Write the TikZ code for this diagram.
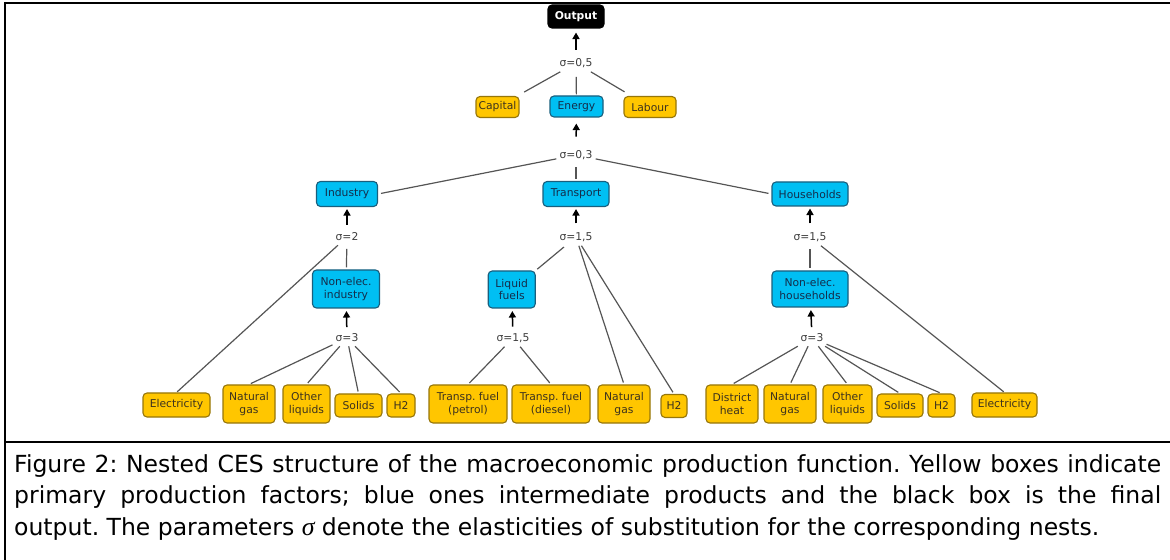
\documentclass[tikz,border=0pt]{standalone}
\usepackage{fontspec}
\setmainfont{DejaVu Sans}
\newfontfamily\capfont{DejaVu Sans}
\newfontfamily\serifit{Liberation Serif}
\usetikzlibrary{arrows.meta}
\definecolor{yfill}{RGB}{255,198,0}
\definecolor{ydraw}{RGB}{150,118,10}
\definecolor{ytext}{RGB}{60,50,30}
\definecolor{bfill}{RGB}{0,191,243}
\definecolor{bdraw}{RGB}{25,95,125}
\definecolor{btext}{RGB}{20,45,75}
\definecolor{sigcol}{RGB}{60,60,60}
\definecolor{concol}{RGB}{85,85,85}
\begin{document}
\frenchspacing
\begin{tikzpicture}[x=1bp,y=-1bp,
  base/.style={rounded corners=4bp, line width=1.1bp, inner sep=0pt, align=center,
    font=\fontsize{10.8}{13}\selectfont},
  yb/.style={base, fill=yfill, draw=ydraw, text=ytext},
  bb/.style={base, fill=bfill, draw=bdraw, text=btext},
  kb/.style={base, fill=black, draw=black, text=white, font=\fontsize{10.8}{13}\selectfont\bfseries},
  sz/.style 2 args={minimum width=#1bp, minimum height=#2bp},
  sig/.style={font=\fontsize{10.8}{12}\selectfont, text=sigcol, inner xsep=3bp, inner ysep=4bp},
  con/.style={draw=concol, line width=1.2bp},
  arr/.style={draw=black, line width=1.5bp, -{Triangle[length=6.5bp,width=7bp]}},
  frm/.style={draw=black, line width=2.2bp},
  captxt/.style={anchor=base west, inner sep=0pt, font=\capfont\fontsize{23.6}{28}\selectfont},
]
\useasboundingbox (0,0) rectangle (1170,560);
% frame
\coordinate (tl) at (4,3); \coordinate (tr) at (1170,3);
\coordinate (lt) at (5,2); \coordinate (lb) at (5,560);
\coordinate (ml) at (4,442); \coordinate (mr) at (1170,442);
\draw[frm] (tl) -- (tr);
\draw[frm] (lt) -- (lb);
\draw[frm] (ml) -- (mr);

% top level
\node[kb, sz={56}{23}] (out) at (576,16.5) {Output};
\node[sig] (s05) at (576,63) {σ=0,5};
\node[yb, sz={43}{21}] (cap) at (497.5,107) {Capital};
\node[bb, sz={53}{21}] (ene) at (576.5,106.5) {Energy};
\node[yb, sz={52}{21}] (lab) at (650,107) {Labour};
\node[sig] (s03) at (576,155) {σ=0,3};

% sectors
\node[bb, sz={61}{25}] (ind) at (347,194) {Industry};
\node[bb, sz={66}{25}] (tra) at (576,194) {Transport};
\node[bb, sz={76}{24}] (hou) at (810,194) {Households};
\node[sig] (s2) at (347,237) {σ=2};
\node[sig] (stra) at (576,237) {σ=1,5};
\node[sig] (shou) at (810,237) {σ=1,5};

% intermediate
\node[bb, sz={67}{38}] (nei) at (346,289) {Non-elec.\\industry};
\node[bb, sz={47}{37}] (liq) at (511.7,289.5) {Liquid\\fuels};
\node[bb, sz={76}{36}] (neh) at (810,289) {Non-elec.\\households};
\node[sig] (s3i) at (347,338) {σ=3};
\node[sig] (sliq) at (513,338) {σ=1,5};
\node[sig] (s3h) at (812,338) {σ=3};

% bottom boxes
\node[yb, sz={67}{24}] (eli) at (176.5,405) {Electricity};
\node[yb, sz={52}{38}] (ngi) at (249,404) {Natural\\gas};
\node[yb, sz={47}{38}] (oli) at (306.5,404) {Other\\liquids};
\node[yb, sz={47}{23}] (soi) at (358.5,405.5) {Solids};
\node[yb, sz={28}{23}] (h2i) at (401,405.5) {H2};
\node[yb, sz={78}{38}] (tfp) at (468,404) {Transp. fuel\\(petrol)};
\node[yb, sz={78}{38}] (tfd) at (551,404) {Transp. fuel\\(diesel)};
\node[yb, sz={52}{38}] (ngt) at (624,404) {Natural\\gas};
\node[yb, sz={26}{23}] (h2t) at (674,406) {H2};
\node[yb, sz={52}{38}] (dh) at (732,404) {District\\heat};
\node[yb, sz={52}{38}] (ngh) at (790,404) {Natural\\gas};
\node[yb, sz={49}{38}] (olh) at (847.5,404) {Other\\liquids};
\node[yb, sz={46}{23}] (soh) at (900,405.5) {Solids};
\node[yb, sz={27}{23}] (h2h) at (941.5,405.5) {H2};
\node[yb, sz={65}{24}] (elh) at (1004.5,405) {Electricity};

% arrows
\draw[arr, shorten <=4.6bp, shorten >=4bp] (s05) -- (out);
\draw[arr, shorten <=9.6bp, shorten >=6bp] (s03) -- (ene);
\draw[arr, shorten <=4bp, shorten >=2bp] (s2) -- (ind);
\draw[arr, shorten <=5bp, shorten >=2bp] (stra) -- (tra);
\draw[arr, shorten <=5bp, shorten >=2bp] (shou) -- (hou);
\draw[arr, shorten <=2.6bp, shorten >=2.5bp] (s3i) -- (nei);
\draw[arr, shorten <=2.6bp, shorten >=2.5bp] (sliq) -- (liq);
\draw[arr, shorten <=2.6bp, shorten >=2.5bp] (s3h) -- (neh);

% connectors
\draw[con, shorten >=8bp] (s05) -- (cap);
\draw[con, shorten <=5bp, shorten >=1bp] (s05) -- (ene);
\draw[con, shorten >=8bp] (s05) -- (lab);
\draw[con, shorten >=3bp] (s03) -- (ind.east);
\draw[con, shorten <=3.6bp, shorten >=2bp] (s03) -- (tra);
\draw[con, shorten >=3bp] (s03) -- (hou.west);
\draw[con, shorten <=3.5bp, shorten >=2bp] (s2) -- (nei);
\draw[con, shorten >=1bp] (s2) -- (eli.north);
\draw[con, shorten <=2bp, shorten >=2bp] (stra) -- (liq.north east);
\draw[con, shorten >=2bp] (stra) -- (ngt.north);
\draw[con, shorten >=2bp] (stra) -- (h2t.north);
\draw[con, shorten <=3.5bp, shorten >=2bp] (shou) -- (neh);
\draw[con, shorten >=1bp] (shou) -- (elh.north);
\draw[con, shorten >=2bp] (s3i) -- (ngi.north);
\draw[con, shorten >=2bp] (s3i) -- (oli.north);
\draw[con, shorten >=2bp] (s3i) -- (soi.north);
\draw[con, shorten >=2bp] (s3i) -- (h2i.north);
\draw[con, shorten >=2bp] (sliq) -- (tfp.north);
\draw[con, shorten >=2bp] (sliq) -- (tfd.north);
\draw[con, shorten >=2bp] (s3h) -- (dh.north);
\draw[con, shorten >=2bp] (s3h) -- (ngh.north);
\draw[con, shorten >=2bp] (s3h) -- (olh.north);
\draw[con, shorten >=2bp] (s3h) -- (soh.north);
\draw[con, shorten >=2bp] (s3h) -- (h2h.north);

% caption
\node[captxt] (cap1) at (14,472)
  {\makebox[1147bp][s]{Figure 2: Nested CES structure of the macroeconomic production function. Yellow boxes indicate}};
\node[captxt] (cap2) at (14,503.5)
  {\makebox[1147bp][s]{primary production factors; blue ones intermediate products and the black box is the final}};
\node[captxt] (cap3) at (14,535)
  {output. The parameters {\serifit\itshape\fontsize{26}{28}\selectfont σ} denote the elasticities of substitution for the corresponding nests.};
\end{tikzpicture}
\end{document}
